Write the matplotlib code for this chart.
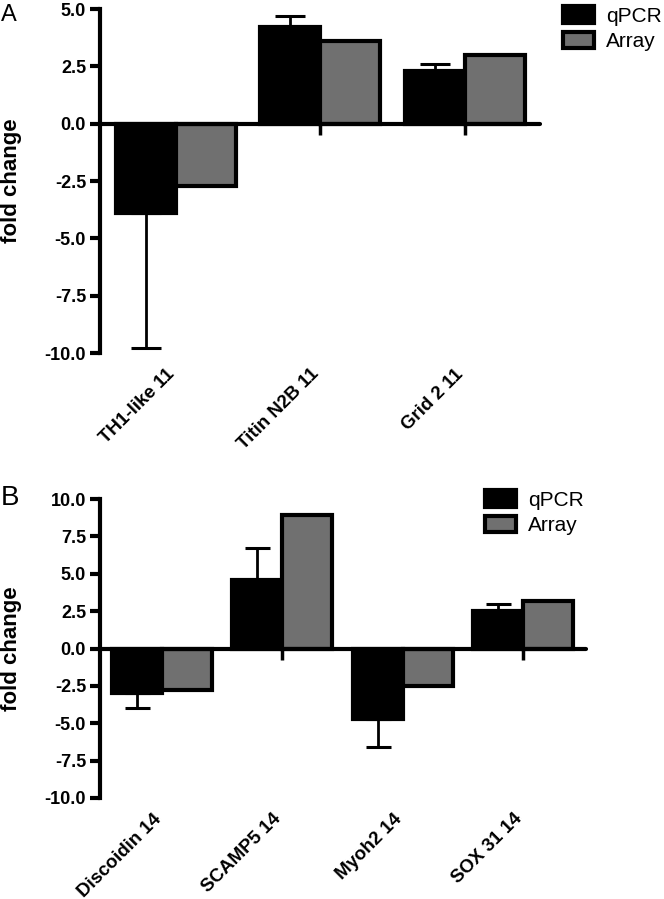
import numpy as np
import matplotlib.pyplot as plt
from matplotlib.patches import Patch
import matplotlib.transforms as mtransforms

plt.rcParams['font.family'] = ['Liberation Sans', 'DejaVu Sans']

# panel A data
genes_a = ['TH1-like 11', 'Titin N2B 11', 'Grid 2 11']
qpcr_a = [-3.9, 4.2, 2.3]
qpcr_err_a = [5.9, 0.5, 0.3]
array_a = [-2.7, 3.6, 3.0]

# panel B data
genes_b = ['Discoidin 14', 'SCAMP5 14', 'Myoh2 14', 'SOX 31 14']
qpcr_b = [-3.0, 4.6, -4.7, 2.5]
qpcr_err_b = [1.0, 2.1, 1.9, 0.5]
array_b = [-2.8, 8.9, -2.5, 3.2]

black = '#000000'
gray = '#707070'

fig = plt.figure(figsize=(6.64, 8.99), dpi=100)


def panel(rect, genes, qpcr, qerr, arr, ylim, yticks, xlim, capsize,
          legend_xy, letter_xy, letter, letter_size):
    ax = fig.add_axes(rect)
    x = np.arange(len(genes))
    w = 0.415
    qpcr = np.array(qpcr)
    qerr = np.array(qerr)
    # error bars only point away from zero
    lower = np.where(qpcr < 0, qerr, 0)
    upper = np.where(qpcr >= 0, qerr, 0)
    ax.bar(x - w / 2, qpcr, w, color=black, edgecolor=black, linewidth=3,
           yerr=[lower, upper], capsize=capsize,
           error_kw=dict(ecolor=black, elinewidth=2, capthick=2.2), zorder=2)
    ax.bar(x + w / 2, arr, w, color=gray, edgecolor=black, linewidth=3, zorder=2)

    ax.set_ylim(*ylim)
    ax.set_xlim(*xlim)
    ax.set_yticks(yticks)
    ax.set_yticklabels(['%.1f' % t for t in yticks], fontweight='bold', fontsize=13)
    for s in ['top', 'right']:
        ax.spines[s].set_visible(False)
    ax.spines['left'].set_linewidth(3)
    ax.spines['bottom'].set_linewidth(3)
    ax.spines['bottom'].set_position(('data', 0))
    ax.spines['bottom'].set_zorder(3)
    ax.spines['bottom'].set_capstyle('round')
    ax.tick_params(axis='y', direction='out', length=7, width=3, pad=3)
    ax.tick_params(axis='x', direction='out', length=8, width=2.5)
    ax.set_xticks(x)
    ax.set_xticklabels([])

    trans = mtransforms.blended_transform_factory(ax.transData, ax.transAxes)
    for xi, g in zip(x, genes):
        ax.annotate(g, xy=(xi, 0), xycoords=trans, xytext=(-7, -9),
                    textcoords='offset points', rotation=45, ha='right', va='top',
                    rotation_mode='anchor', fontsize=13.5, fontweight='bold')

    handles = [Patch(facecolor=black, edgecolor=black, linewidth=3, label='qPCR'),
               Patch(facecolor=gray, edgecolor=black, linewidth=3, label='Array')]
    fig.legend(handles=handles, loc='upper left', bbox_to_anchor=legend_xy,
               bbox_transform=fig.transFigure, frameon=False, fontsize=15,
               handlelength=1.5, handleheight=0.85, labelspacing=0.3,
               handletextpad=0.55, borderpad=0, borderaxespad=0)

    fig.text(letter_xy[0], letter_xy[1], letter, fontsize=letter_size,
             ha='left', va='top')
    pos = ax.get_position()
    fig.text(12 / 664, (pos.y0 + pos.y1) / 2, 'fold change', rotation=90,
             fontsize=16, fontweight='bold', ha='center', va='center')
    return ax


panel([100 / 664, 1 - 353 / 899, 440 / 664, 344 / 899],
      genes_a, qpcr_a, qpcr_err_a, array_a,
      (-10, 5), [-10, -7.5, -5, -2.5, 0, 2.5, 5],
      (-0.526, 2.52), 11, (563 / 664, 1 - 6 / 899), (1 / 664, 1 - 4 / 899), 'A', 17)

panel([100 / 664, 1 - 798 / 899, 486 / 664, 299 / 899],
      genes_b, qpcr_b, qpcr_err_b, array_b,
      (-10, 10), [-10, -7.5, -5, -2.5, 0, 2.5, 5, 7.5, 10],
      (-0.515, 3.52), 9, (485 / 664, 1 - 490 / 899), (1 / 664, 1 - 485 / 899), 'B', 20)

fig.savefig('out.png', dpi=100)
